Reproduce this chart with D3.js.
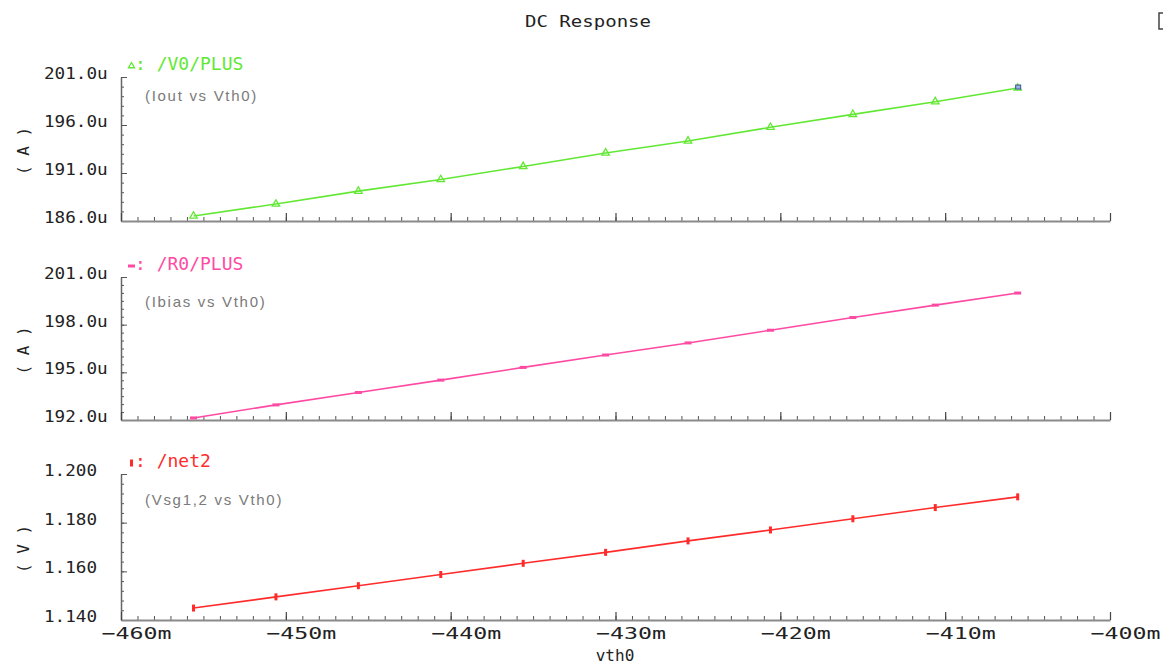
<!DOCTYPE html>
<html>
<head>
<meta charset="utf-8">
<script src="https://cdn.jsdelivr.net/npm/d3@7"></script>
<style>
  body { margin: 0; background: #fff; }
  svg { display: block; }
  .mono { font-family: "DejaVu Sans Mono", monospace; font-variant-numeric: slashed-zero; font-feature-settings: "zero" 1; }
  .note { font-family: "Liberation Sans", Arial, sans-serif; }
</style>
</head>
<body>
<svg id="chart" width="1169" height="666"></svg>
<script>
// Swept parameter vth0 (mV) and the three DC outputs
const vth0  = [-455.6, -450.6, -445.6, -440.6, -435.6, -430.6, -425.6, -420.6, -415.6, -410.6, -405.6];
const iout  = [186.52, 187.77, 189.11, 190.32, 191.68, 193.09, 194.34, 195.76, 197.11, 198.43, 199.85]; // uA
const ibias = [192.13, 192.95, 193.73, 194.51, 195.31, 196.09, 196.85, 197.65, 198.45, 199.23, 199.99]; // uA
const vsg12 = [1.1449, 1.1495, 1.1541, 1.1587, 1.1633, 1.1678, 1.1725, 1.1770, 1.1816, 1.1862, 1.1906]; // V

// Axis ticks
const xTicks     = [-460, -450, -440, -430, -420, -410, -400];
const ioutTicks  = [186, 191, 196, 201];
const ibiasTicks = [192, 195, 198, 201];
const vsgTicks   = [1.14, 1.16, 1.18, 1.20];

// Trace names and annotations
const traceNames = [": /V0/PLUS", ": /R0/PLUS", ": /net2"];
const traceNotes = ["(Iout vs Vth0)", "(Ibias vs Vth0)", "(Vsg1,2 vs Vth0)"];
const unitTitles = ["( A )", "( A )", "( V )"];

const svg = d3.select("#chart");
svg.append("rect").attr("width", 1169).attr("height", 666).attr("fill", "#fff");

const X0 = 121, X1 = 1110;
const x = d3.scaleLinear().domain([-460, -400]).range([X0, X1]);
const xMinor = d3.range(-460, -399.5, 1);

const panels = [
  { top: 77,  bottom: 221, domain: [186, 201], ticks: ioutTicks, minor: d3.range(0, 16).map(i => 186 + i),
    fmt: v => d3.format(".1f")(v) + "u", values: iout, color: "#62e834", marker: "tri", noteDy: 18 },
  { top: 277, bottom: 420, domain: [192, 201], ticks: ibiasTicks, minor: d3.range(0, 19).map(i => 192 + i * 0.5),
    fmt: v => d3.format(".1f")(v) + "u", values: ibias, color: "#ff4aa3", marker: "dash", noteDy: 24 },
  { top: 474, bottom: 620, domain: [1.14, 1.20], ticks: vsgTicks, minor: d3.range(0, 16).map(i => 1.14 + i * 0.004),
    fmt: v => d3.format(".3f")(v), values: vsg12, color: "#ff2b2b", marker: "bar", noteDy: 25 }
];

const tickColor = "#555";
const axisColor = "#8a8a8a";

panels.forEach((p, idx) => {
  const y = d3.scaleLinear().domain(p.domain).range([p.bottom, p.top]);
  const g = svg.append("g");

  // minor y ticks (pointing into the plot)
  g.append("g").attr("transform", `translate(${X0},0)`)
    .call(d3.axisRight(y).tickValues(p.minor).tickSize(3).tickSizeOuter(0).tickFormat(""))
    .call(a => a.select(".domain").remove())
    .call(a => a.selectAll("line").attr("stroke", tickColor));

  // major y ticks, axis line and labels
  g.append("g").attr("transform", `translate(${X0},0)`)
    .call(d3.axisRight(y).tickValues(p.ticks).tickSize(6).tickSizeOuter(0).tickFormat(p.fmt))
    .call(a => a.select(".domain").attr("stroke", "#666").attr("stroke-width", 1.5))
    .call(a => a.selectAll("line").attr("stroke", tickColor))
    .call(a => a.selectAll("text")
      .attr("class", "mono")
      .attr("x", 44 - X0).attr("dy", "0.35em").attr("y", -4)
      .attr("text-anchor", "start")
      .attr("font-size", 16).attr("fill", "#222")
      .attr("textLength", function () { return this.textContent.length * 10.6; })
      .attr("lengthAdjust", "spacingAndGlyphs"));

  // minor x ticks (upward)
  g.append("g").attr("transform", `translate(0,${p.bottom})`)
    .call(d3.axisTop(x).tickValues(xMinor).tickSize(4).tickSizeOuter(0).tickFormat(""))
    .call(a => a.select(".domain").remove())
    .call(a => a.selectAll("line").attr("stroke", tickColor));

  // major x ticks and axis line
  g.append("g").attr("transform", `translate(0,${p.bottom})`)
    .call(d3.axisTop(x).tickValues(xTicks).tickSize(8).tickSizeOuter(0).tickFormat(""))
    .call(a => a.select(".domain").attr("stroke", axisColor).attr("stroke-width", 2))
    .call(a => a.selectAll("line").attr("stroke", "#444").attr("stroke-width", 1.2));

  // unit title
  const midY = (p.top + p.bottom) / 2 + 2;
  g.append("text").attr("class", "mono")
    .attr("transform", `translate(23,${midY}) rotate(-90)`)
    .attr("text-anchor", "middle").attr("dominant-baseline", "central")
    .attr("font-size", 16).attr("fill", "#222")
    .text(unitTitles[idx]);

  // trace
  const pts = vth0.map((v, i) => [x(v), y(p.values[i])]);
  g.append("path")
    .attr("d", d3.line()(pts))
    .attr("fill", "none").attr("stroke", p.color).attr("stroke-width", 1.6);

  const drawMarker = (sel, cx, cy, small) => {
    if (p.marker === "tri") {
      sel.append("path")
        .attr("d", d3.symbol(d3.symbolTriangle, small ? 16 : 24)())
        .attr("transform", `translate(${cx},${cy})`)
        .attr("fill", "none").attr("stroke", p.color).attr("stroke-width", 1.3);
    } else if (p.marker === "dash") {
      sel.append("rect").attr("x", cx - 3.5).attr("y", cy - 1.5).attr("width", 7).attr("height", 3)
        .attr("fill", p.color);
    } else {
      sel.append("rect").attr("x", cx - 1.5).attr("y", cy - 3.5).attr("width", 3).attr("height", 7)
        .attr("fill", p.color);
    }
  };
  pts.forEach(([cx, cy]) => drawMarker(g, cx, cy, false));

  // cursor box on the final point of the first trace
  if (idx === 0) {
    const [lx, ly] = pts[pts.length - 1];
    g.append("rect").attr("x", lx - 2).attr("y", ly - 3).attr("width", 5).attr("height", 4)
      .attr("fill", "#9fb3e0").attr("stroke", "#34559c").attr("stroke-width", 1);
  }

  // legend
  drawMarker(g, 131.5, p.top - 11, true);
  g.append("text").attr("class", "mono")
    .attr("x", 135).attr("y", p.top - 14).attr("dominant-baseline", "central")
    .attr("font-size", 18).attr("fill", p.color)
    .text(traceNames[idx]);

  g.append("text").attr("class", "note")
    .attr("x", 145).attr("y", p.top + p.noteDy).attr("dominant-baseline", "central")
    .attr("font-size", 15).attr("letter-spacing", 1.7).attr("fill", "#7a7a7a")
    .text(traceNotes[idx]);
});

// x tick labels under the bottom panel
const last = panels[panels.length - 1];
svg.append("g").attr("transform", `translate(0,${last.bottom})`)
  .call(d3.axisBottom(x).tickValues(xTicks).tickSize(0).tickFormat(v => d3.format("")(v) + "m"))
  .call(a => a.select(".domain").remove())
  .call(a => a.selectAll("text")
    .attr("class", "mono")
    .attr("x", 15).attr("y", 13).attr("dy", "0.35em")
    .attr("font-size", 16).attr("fill", "#222")
    .attr("textLength", 70).attr("lengthAdjust", "spacingAndGlyphs"));

// x axis title
svg.append("text").attr("class", "mono")
  .attr("x", 615).attr("y", 655).attr("text-anchor", "middle").attr("dominant-baseline", "central")
  .attr("font-size", 16).attr("fill", "#222").text("vth0");

// window title
svg.append("text").attr("class", "mono")
  .attr("x", 588).attr("y", 21).attr("text-anchor", "middle").attr("dominant-baseline", "central")
  .attr("font-size", 16).attr("fill", "#222")
  .attr("textLength", 126).attr("lengthAdjust", "spacingAndGlyphs")
  .text("DC Response");

// clipped frame edge at top right
svg.append("path").attr("d", "M1163,13 H1159 V29 H1163")
  .attr("fill", "none").attr("stroke", "#444").attr("stroke-width", 1.5);
</script>
</body>
</html>
